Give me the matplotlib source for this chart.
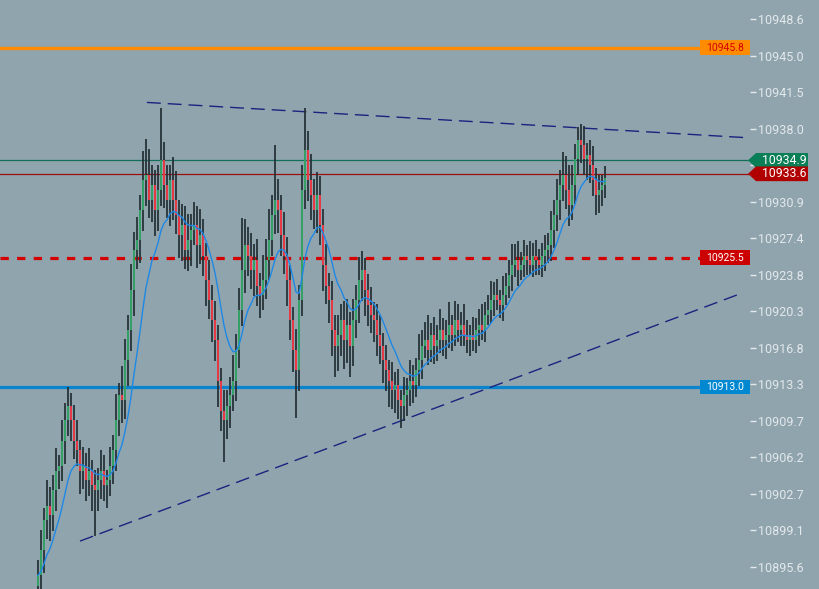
import numpy as np
import pandas as pd
import matplotlib
matplotlib.use("Agg")
import matplotlib.pyplot as plt
from matplotlib.patches import Rectangle, Polygon
from matplotlib.transforms import blended_transform_factory

plt.rcParams['font.family'] = ['Roboto', 'DejaVu Sans']

# ---------------- data ----------------
BASE = 10900.0
first_open = 10893.8
close_off = [
    -5.2, -2.8, 0.1, 1.5, 0.6, 3.0, 4.9, 5.4, 7.8, 9.8,
    11.2, 9.8, 7.8, 6.9, 4.9, 5.4, 4.0, 4.9, 3.5, 3.0,
    4.0, 4.9, 3.5, 4.0, 5.4, 6.9, 9.8, 12.2, 11.7, 15.6,
    18.5, 22.4, 26.2, 27.2, 30.1, 33.0, 33.5, 31.1, 32.5, 30.1,
    32.0, 34.9, 32.5, 31.1, 33.0, 31.1, 29.6, 27.7, 28.7, 26.2,
    27.2, 28.2, 28.7, 26.7, 27.7, 25.7, 23.3, 21.4, 19.5, 17.5,
    13.6, 10.7, 9.8, 11.2, 12.2, 13.6, 16.6, 20.4, 24.3, 26.7,
    25.7, 24.3, 25.3, 22.8, 21.9, 23.3, 25.3, 27.2, 29.6, 31.1,
    30.1, 27.7, 25.7, 23.3, 19.5, 16.6, 14.6, 21.4, 32.0, 35.9,
    33.0, 31.6, 30.1, 31.6, 28.7, 24.8, 22.8, 21.4, 18.5, 17.0,
    18.0, 19.5, 17.5, 19.0, 17.0, 19.5, 21.4, 23.3, 24.3, 22.4,
    20.9, 20.0, 19.5, 18.0, 17.0, 15.6, 14.6, 13.6, 12.7, 13.2,
    11.7, 11.2, 12.2, 12.7, 13.6, 13.2, 14.6, 15.6, 17.0, 17.5,
    16.6, 18.0, 17.0, 17.5, 18.5, 17.5, 18.0, 19.0, 18.0, 19.5,
    18.5, 19.0, 18.0, 17.5, 18.0, 17.5, 18.5, 19.0, 18.5, 20.0,
    20.4, 21.4, 21.9, 21.4, 20.9, 21.9, 22.8, 23.8, 24.8, 25.3,
    24.3, 24.8, 25.7, 25.3, 24.8, 25.7, 25.3, 24.8, 25.7, 26.2,
    26.7, 28.2, 29.6, 31.1, 32.5, 33.5, 32.0, 30.6, 32.5, 35.0,
    36.9, 36.4, 35.0, 35.4, 34.5, 33.0, 31.6, 32.0, 32.5, 33.2,
]
wick_up = [
    1.5, 2.0, 1.2, 2.5, 1.8, 1.5, 2.2, 1.0, 2.0, 1.6,
    1.8, 1.2, 1.5, 2.0, 1.0, 1.8, 1.2, 2.2, 1.0, 1.5,
    1.2, 2.0, 1.5, 1.0, 1.8, 1.5, 2.5, 1.2, 2.8, 2.0,
    1.5, 2.5, 1.8, 2.2, 1.5, 2.8, 3.5, 2.5, 2.0, 1.5,
    2.5, 5.1, 1.8, 2.0, 1.5, 2.2, 2.8, 1.5, 2.0, 1.8,
    2.5, 1.5, 2.2, 1.8, 2.5, 1.5, 1.2, 2.0, 1.5, 1.8,
    1.5, 1.2, 2.0, 1.5, 1.8, 2.5, 1.5, 2.2, 5.0, 2.5,
    1.8, 2.2, 1.5, 2.0, 1.2, 2.5, 2.0, 3.0, 2.0, 5.3,
    2.0, 1.5, 2.2, 1.8, 1.5, 1.2, 2.0, 1.5, 2.5, 4.1,
    1.8, 2.5, 1.5, 2.2, 1.8, 1.5, 2.0, 1.2, 1.8, 1.5,
    2.0, 1.5, 1.8, 2.5, 1.2, 2.0, 1.5, 2.3, 1.8, 1.2,
    1.5, 1.8, 1.2, 1.5, 2.0, 1.2, 1.5, 1.0, 1.8, 1.2,
    1.5, 1.0, 1.8, 1.2, 2.0, 1.5, 1.2, 2.5, 1.5, 1.8,
    2.5, 1.2, 1.8, 1.5, 2.0, 1.2, 1.5, 2.2, 1.0, 1.8,
    1.5, 1.2, 2.0, 1.5, 1.0, 1.8, 1.2, 1.5, 2.0, 1.2,
    1.5, 1.8, 1.2, 1.5, 1.0, 1.8, 1.2, 1.5, 2.0, 1.5,
    1.8, 1.2, 1.5, 1.0, 1.8, 1.2, 1.5, 1.0, 1.2, 1.5,
    1.2, 1.8, 1.5, 2.0, 1.5, 2.2, 1.8, 2.5, 2.0, 1.5,
    1.2, 1.5, 1.8, 1.2, 1.5, 1.8, 1.2, 1.5, 1.0, 1.2,
]
wick_dn = [
    2.0, 1.5, 2.2, 1.8, 2.5, 1.5, 2.0, 1.8, 1.5, 2.2,
    1.5, 2.0, 1.8, 1.5, 2.2, 1.8, 2.0, 1.5, 2.5, 4.4,
    2.0, 1.8, 1.5, 2.2, 1.5, 1.8, 2.0, 1.5, 2.2, 1.8,
    2.5, 2.0, 2.5, 1.8, 2.2, 2.0, 2.5, 1.8, 2.2, 2.5,
    2.0, 1.5, 2.2, 1.8, 2.5, 2.0, 1.8, 2.2, 2.5, 1.8,
    2.0, 2.5, 1.5, 2.2, 1.8, 2.0, 2.5, 1.8, 2.2, 2.0,
    2.5, 2.0, 4.1, 1.8, 2.2, 1.5, 2.0, 1.8, 1.5, 2.2,
    2.0, 1.8, 2.5, 2.0, 2.2, 1.5, 1.8, 2.0, 1.5, 1.8,
    2.2, 2.0, 1.8, 2.5, 2.0, 2.2, 4.6, 2.0, 1.5, 1.8,
    2.0, 2.5, 1.8, 2.2, 2.0, 2.5, 1.8, 2.2, 2.5, 3.0,
    2.5, 2.0, 2.8, 2.2, 3.0, 2.0, 1.8, 2.2, 2.0, 2.5,
    2.0, 1.8, 2.2, 2.0, 1.8, 2.2, 2.0, 2.5, 1.8, 2.2,
    1.8, 2.2, 1.5, 2.0, 1.5, 1.8, 1.2, 1.5, 1.8, 1.2,
    1.5, 1.2, 1.8, 1.5, 1.2, 1.5, 1.8, 1.2, 1.5, 1.0,
    1.2, 1.5, 1.0, 1.2, 1.5, 1.0, 1.2, 1.5, 1.0, 1.2,
    1.0, 1.2, 1.5, 1.0, 1.2, 1.5, 1.0, 1.2, 1.5, 1.2,
    1.5, 1.0, 1.2, 1.5, 1.0, 1.2, 1.5, 1.0, 1.2, 1.5,
    1.2, 1.5, 1.8, 1.5, 2.0, 1.5, 1.8, 2.0, 1.5, 1.8,
    1.5, 1.8, 1.5, 2.0, 1.8, 1.5, 2.0, 1.8, 1.5, 1.2,
]
ema_span = 12

# horizontal levels
level_orange = 10945.8
level_red_dash = 10925.5
level_blue = 10913.0
level_green_thin = 10934.9
level_red_thin = 10933.6

# trend lines: (candle index, price)
upper_trend = [(36.3, 10940.5), (235.7, 10937.1)]
lower_trend = [(14.0, 10898.1), (234.0, 10922.0)]

yticks = [10895.6, 10899.131, 10902.662, 10906.193, 10909.724, 10913.255,
          10916.786, 10920.317, 10923.848, 10927.379, 10930.910, 10934.441,
          10937.972, 10941.503, 10945.034, 10948.565]
hidden_tick = 10934.441   # covered by the price tags in the original

# ---------------- derived ----------------
close = BASE + np.array(close_off)
opens = np.concatenate([[first_open], close[:-1]])
high = np.maximum(opens, close) + np.array(wick_up)
low = np.minimum(opens, close) - np.array(wick_dn)
idx = np.arange(len(close))
ema = pd.Series(close).ewm(span=ema_span, adjust=False).mean().values

BG = '#90a4ae'
fig = plt.figure(figsize=(8.19, 5.89), dpi=100, facecolor=BG)
ax = fig.add_axes([0, 0, 750 / 819, 1])
ax.set_facecolor(BG)
for s in ax.spines.values():
    s.set_visible(False)

ax.set_xlim(-12.667, 237.33)
ax.set_ylim(10893.47, 10950.40)

# horizontal lines
ax.axhline(level_orange, xmax=700 / 750, color='#ff8c00', lw=2.4, zorder=2)
ax.axhline(level_red_dash, xmax=700 / 750, color='#d50000', lw=2.3,
           linestyle=(0, (2.6, 2.6)), zorder=2)
ax.axhline(level_blue, xmax=700 / 750, color='#0a84cc', lw=2.3, zorder=2)
ax.axhline(level_green_thin, color='#12705a', lw=0.9, zorder=2)
ax.axhline(level_red_thin, color='#9c0d0d', lw=0.9, zorder=2)

# trend lines
for tl in (upper_trend, lower_trend):
    xs = [p[0] for p in tl]
    ys = [p[1] for p in tl]
    ax.plot(xs, ys, color='#1a237e', lw=1.0, linestyle=(0, (10, 5)), zorder=3)

# candles
up = close >= opens
ax.vlines(idx, low, high, color='#263238', lw=1.3, zorder=4)
ax.bar(idx[up], (close - opens)[up], bottom=opens[up], width=0.55,
       color='#34a065', edgecolor='none', zorder=5)
ax.bar(idx[~up], (opens - close)[~up], bottom=close[~up], width=0.55,
       color='#e63946', edgecolor='none', zorder=5)

# moving average
ax.plot(idx, ema, color='#1e88e5', lw=1.0, zorder=6)

# axis ticks
ax.set_xticks([])
ax.yaxis.tick_right()
ax.set_yticks(yticks)
ax.set_yticklabels(["" if v == hidden_tick else f"{v:.1f}" for v in yticks])
ax.tick_params(axis='y', direction='out', length=4, width=1, pad=2,
               colors='#e3e8eb', labelsize=9)

# left-side level boxes
trb = blended_transform_factory(ax.transAxes, ax.transData)
box_h = 1.42
for lvl, fc, tc in ((level_orange, '#ff8c00', '#d50000'),
                    (level_red_dash, '#cc0000', '#ffffff'),
                    (level_blue, '#0288d1', '#ffffff')):
    ax.add_patch(Rectangle((700 / 750, lvl - box_h / 2), 50 / 750, box_h,
                           transform=trb, facecolor=fc, edgecolor='none',
                           zorder=8, clip_on=False))
    ax.text(725 / 750, lvl, f"{lvl:.1f}", transform=trb, ha='center',
            va='center', color=tc, fontsize=7.5, zorder=9)

# right-side price tags
tag_h = 1.42
for lvl, fc in ((level_green_thin, '#0a7f57'), (level_red_thin, '#b00000')):
    x0, xa, x1 = 748 / 750, 756 / 750, 808 / 750
    pts = [(x0, lvl), (xa, lvl + tag_h / 2), (x1, lvl + tag_h / 2),
           (x1, lvl - tag_h / 2), (xa, lvl - tag_h / 2)]
    ax.add_patch(Polygon(pts, closed=True, transform=trb, facecolor=fc,
                         edgecolor='none', zorder=10, clip_on=False))
    ax.text(784 / 750, lvl, f"{lvl:.1f}", transform=trb, ha='center',
            va='center', color='#ffffff', fontsize=8.8, zorder=11,
            clip_on=False)

fig.savefig('out.png', dpi=100, facecolor=BG)
